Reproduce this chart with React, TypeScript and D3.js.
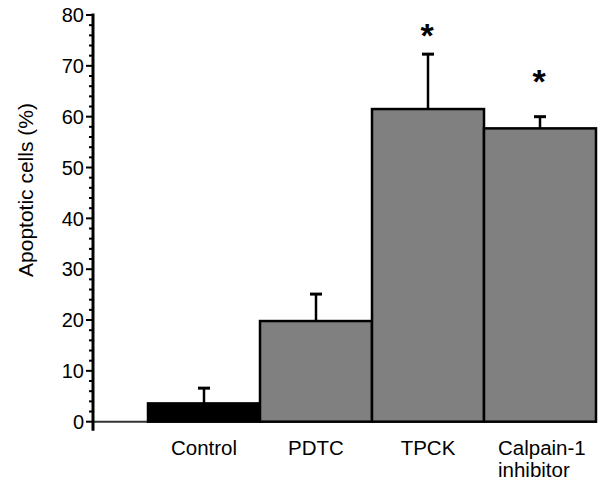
import { useEffect, useRef } from "react";
import * as d3 from "d3";

// chart data
const categories = ["Control", "PDTC", "TPCK", "Calpain-1\ninhibitor"];
const means = [3.6, 19.8, 61.5, 57.7];
const errors = [3.0, 5.3, 10.8, 2.3];
// level (in % units) at which the significance star sits, null = none
const starLevels = [null, null, 77, 68];
const barColors = ["#000000", "#808080", "#808080", "#808080"];
const yTicks = [0, 10, 20, 30, 40, 50, 60, 70, 80];

const width = 605;
const height = 481;
const margin = { top: 15, right: 9, bottom: 59, left: 93 };

const drawChart = (node: SVGSVGElement) => {
    const svg = d3.select(node);
    svg.selectAll("*").remove();

    const font = "'Liberation Sans', Arial, Helvetica, sans-serif";

    // scales
    const y = d3.scaleLinear()
        .domain([0, 80])
        .range([height - margin.bottom - 0.3, margin.top]);

    const x = d3.scaleBand()
        .domain(categories)
        .range([148, 596])
        .padding(0);

    const axisX = margin.left;
    const y0 = y(0);

    // baseline from axis to the first bar
    svg.append("line")
        .attr("x1", axisX)
        .attr("x2", x(categories[0])!)
        .attr("y1", y0)
        .attr("y2", y0)
        .attr("stroke", "#333")
        .attr("stroke-width", 2);

    // error bars (drawn first so bars cover the lower part)
    const g = svg.append("g");
    categories.forEach((c, i) => {
        const cx = x(c)! + x.bandwidth() / 2;
        const top = y(means[i] + errors[i]);
        g.append("line")
            .attr("x1", cx).attr("x2", cx)
            .attr("y1", y(means[i])).attr("y2", top)
            .attr("stroke", "#000").attr("stroke-width", 2.5);
        g.append("line")
            .attr("x1", cx - 6).attr("x2", cx + 6)
            .attr("y1", top).attr("y2", top)
            .attr("stroke", "#000").attr("stroke-width", 3);
    });

    // bars
    svg.append("g")
        .selectAll("rect")
        .data(categories)
        .join("rect")
        .attr("x", d => x(d)!)
        .attr("width", x.bandwidth())
        .attr("y", (d, i) => y(means[i]))
        .attr("height", (d, i) => y0 - y(means[i]))
        .attr("fill", (d, i) => barColors[i])
        .attr("stroke", "#000")
        .attr("stroke-width", 2.5);

    // significance asterisks
    categories.forEach((c, i) => {
        const lvl = starLevels[i];
        if (lvl == null) return;
        const cx = x(c)! + x.bandwidth() / 2;
        svg.append("text")
            .attr("x", cx - 1)
            .attr("y", y(lvl) + 17)
            .attr("text-anchor", "middle")
            .attr("font-family", font)
            .attr("font-size", 34)
            .attr("font-weight", "bold")
            .text("*");
    });

    // y axis line
    svg.append("line")
        .attr("x1", axisX).attr("x2", axisX)
        .attr("y1", y(80) - 1.5).attr("y2", y0 + 9)
        .attr("stroke", "#000").attr("stroke-width", 3);

    // minor ticks every 2
    const minor = d3.range(0, 81, 2).filter(v => v % 10 !== 0);
    svg.append("g")
        .selectAll("line")
        .data(minor)
        .join("line")
        .attr("x1", axisX - 4).attr("x2", axisX)
        .attr("y1", d => y(d)).attr("y2", d => y(d))
        .attr("stroke", "#000").attr("stroke-width", 2);

    // major ticks + labels
    const major = svg.append("g");
    major.selectAll("line")
        .data(yTicks)
        .join("line")
        .attr("x1", axisX - 7).attr("x2", axisX)
        .attr("y1", d => y(d)).attr("y2", d => y(d))
        .attr("stroke", "#000").attr("stroke-width", 2);
    major.selectAll("text")
        .data(yTicks)
        .join("text")
        .attr("x", axisX - 9)
        .attr("y", d => y(d))
        .attr("dy", "0.36em")
        .attr("text-anchor", "end")
        .attr("font-family", font)
        .attr("font-size", 20)
        .text(d => d);

    // y title
    svg.append("text")
        .attr("transform", `translate(33,190) rotate(-90)`)
        .attr("text-anchor", "middle")
        .attr("font-family", font)
        .attr("font-size", 21)
        .text("Apoptotic cells (%)");

    // category labels
    categories.forEach(c => {
        const lines = c.split("\n");
        const cx = x(c)! + x.bandwidth() / 2;
        const t = svg.append("text")
            .attr("font-family", font)
            .attr("font-size", 20.5)
            .attr("y", 455);
        if (lines.length === 1) {
            t.attr("x", cx).attr("text-anchor", "middle").text(c);
        } else {
            t.attr("text-anchor", "start");
            lines.forEach((l, j) => {
                t.append("tspan")
                    .attr("x", cx - 42)
                    .attr("y", 455 + j * 22)
                    .text(l);
            });
        }
    });
};

export default function App() {
    const ref = useRef<SVGSVGElement>(null);

    useEffect(() => {
        if (ref.current) drawChart(ref.current);
    }, []);

    return (
        <svg
            ref={ref}
            width={width}
            height={height}
            style={{ position: "absolute", left: 0, top: 0, background: "#fff" }}
        />
    );
}
